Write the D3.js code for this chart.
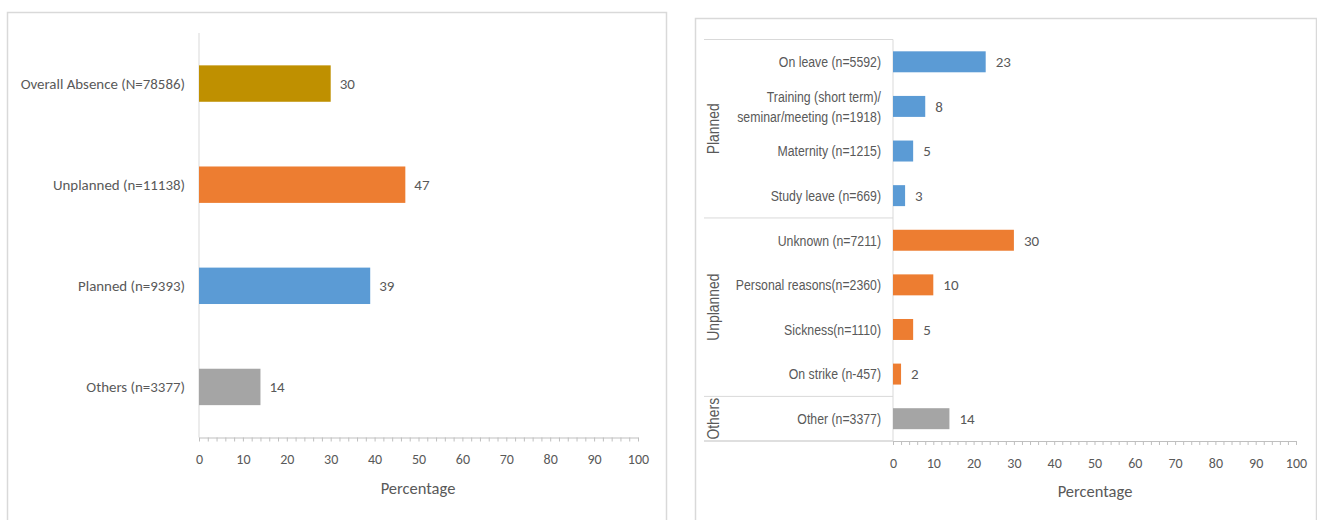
<!DOCTYPE html>
<html>
<head>
<meta charset="utf-8">
<script src="https://cdn.jsdelivr.net/npm/d3@7"></script>
<style>
  html, body { margin: 0; padding: 0; background: #fff; }
  svg { display: block; }
  .cal { font-family: Carlito, Lato, "Open Sans", sans-serif; fill: #595959; }
  .nar { font-family: "Liberation Sans", Arial, sans-serif; fill: #595959; }
</style>
</head>
<body>
<svg id="chart" width="1317" height="520"></svg>
<script>
// Absence by type (left panel)
const overviewCategories = ["Overall Absence (N=78586)", "Unplanned (n=11138)", "Planned (n=9393)", "Others (n=3377)"];
const overviewValues = [30, 47, 39, 14];
const overviewColors = ["#BF9000", "#ED7D31", "#5B9BD5", "#A5A5A5"];

// Absence reasons, grouped (right panel)
const reasonCategories = [
  "On leave (n=5592)",
  "Training (short term)/\nseminar/meeting (n=1918)",
  "Maternity (n=1215)",
  "Study leave (n=669)",
  "Unknown (n=7211)",
  "Personal reasons(n=2360)",
  "Sickness(n=1110)",
  "On strike (n-457)",
  "Other (n=3377)"
];
const reasonValues = [23, 8, 5, 3, 30, 10, 5, 2, 14];
const reasonGroupNames = ["Planned", "Unplanned", "Others"];
const reasonGroupSizes = [4, 4, 1];
const groupColors = ["#5B9BD5", "#ED7D31", "#A5A5A5"];

const axisTicks = d3.range(0, 101, 10);
const minorTicks = d3.range(0, 101, 2);
const axisTitle = "Percentage";

const svg = d3.select("#chart");
const lineColor = "#D9D9D9";
const tickColor = "#BFBFBF";
const narrow = 0.82; // horizontal squeeze for the condensed label face

// Panel frames
svg.append("rect").attr("x", 7.5).attr("y", 12.5).attr("width", 659).attr("height", 530)
  .attr("fill", "none").attr("stroke", lineColor).attr("stroke-width", 1.5);
svg.append("rect").attr("x", 695.5).attr("y", 18.5).attr("width", 621).attr("height", 530)
  .attr("fill", "none").attr("stroke", lineColor).attr("stroke-width", 1.5);

function drawXAxis(g, x, yPos, titleX, titleY) {
  const ax = g.append("g").attr("transform", `translate(0,${yPos})`)
    .call(d3.axisBottom(x).tickValues(minorTicks)
      .tickFormat(d => axisTicks.includes(d) ? d : "")
      .tickSizeInner(4).tickSizeOuter(0).tickPadding(13));
  ax.select(".domain").attr("stroke", tickColor);
  ax.selectAll(".tick line").attr("stroke", tickColor);
  ax.selectAll(".tick text").attr("class", "cal").attr("font-size", 14).attr("fill", "#595959");
  g.append("text").attr("class", "cal").attr("x", titleX).attr("y", titleY)
    .attr("text-anchor", "middle").attr("font-size", 16.5).text(axisTitle);
}

// ---- Left panel ----
{
  const g = svg.append("g");
  const x = d3.scaleLinear().domain([0, 100]).range([199, 638]);
  const y = d3.scaleBand().domain(overviewCategories).range([33, 437.5]).paddingInner(0.64).paddingOuter(0.32);

  g.append("line").attr("x1", x(0)).attr("x2", x(0)).attr("y1", 33).attr("y2", 437.5)
    .attr("stroke", lineColor);

  g.selectAll("rect.bar").data(overviewValues).join("rect")
    .attr("class", "bar")
    .attr("x", x(0)).attr("y", (d, i) => y(overviewCategories[i]))
    .attr("width", d => x(d) - x(0)).attr("height", y.bandwidth())
    .attr("fill", (d, i) => overviewColors[i]);

  g.selectAll("text.val").data(overviewValues).join("text")
    .attr("class", "cal val")
    .attr("x", d => x(d) + 9).attr("y", (d, i) => y(overviewCategories[i]) + y.bandwidth() / 2)
    .attr("dy", "0.35em").attr("font-size", 15).text(d => d);

  g.selectAll("text.cat").data(overviewCategories).join("text")
    .attr("class", "cal cat")
    .attr("x", 185).attr("y", d => y(d) + y.bandwidth() / 2)
    .attr("dy", "0.35em").attr("text-anchor", "end").attr("font-size", 14.9).text(d => d);

  drawXAxis(g, x, 437.5, 418, 494);
}

// ---- Right panel ----
{
  const g = svg.append("g");
  const x = d3.scaleLinear().domain([0, 100]).range([893, 1296]);
  const top = 39.5, bottom = 441;
  const y = d3.scaleBand().domain(d3.range(reasonCategories.length)).range([top, bottom])
    .paddingInner(0.53).paddingOuter(0.265);
  const step = y.step();

  // group index for each row
  const rowGroup = [];
  reasonGroupSizes.forEach((n, gi) => { for (let k = 0; k < n; k++) rowGroup.push(gi); });

  // table rules separating the groups
  let start = 0;
  const bounds = [0];
  reasonGroupSizes.forEach(n => { start += n; bounds.push(start); });
  bounds.forEach(b => {
    const yy = top + b * step;
    g.append("line").attr("x1", 704).attr("x2", x(0)).attr("y1", yy).attr("y2", yy)
      .attr("stroke", b === reasonCategories.length ? tickColor : lineColor);
  });
  g.append("line").attr("x1", x(0)).attr("x2", x(0)).attr("y1", top).attr("y2", bottom)
    .attr("stroke", lineColor);

  // group titles, rotated
  reasonGroupNames.forEach((name, gi) => {
    const cy = top + (bounds[gi] + bounds[gi + 1]) / 2 * step;
    g.append("text").attr("class", "nar")
      .attr("transform", `translate(713,${cy}) rotate(-90) scale(${narrow},1)`)
      .attr("text-anchor", "middle").attr("dy", "0.35em").attr("font-size", 17).text(name);
  });

  g.selectAll("rect.bar").data(reasonValues).join("rect")
    .attr("class", "bar")
    .attr("x", x(0)).attr("y", (d, i) => y(i))
    .attr("width", d => x(d) - x(0)).attr("height", y.bandwidth())
    .attr("fill", (d, i) => groupColors[rowGroup[i]]);

  g.selectAll("text.val").data(reasonValues).join("text")
    .attr("class", "cal val")
    .attr("x", d => x(d) + 10).attr("y", (d, i) => y(i) + y.bandwidth() / 2)
    .attr("dy", "0.35em").attr("font-size", 15).text(d => d);

  reasonCategories.forEach((label, i) => {
    const lines = label.split("\n");
    const cy = y(i) + y.bandwidth() / 2;
    const t = g.append("text").attr("class", "nar").attr("text-anchor", "end").attr("font-size", 15)
      .attr("transform", `translate(881,${cy}) scale(${narrow},1)`);
    lines.forEach((ln, k) => {
      t.append("tspan").attr("x", 0)
        .attr("y", (k - (lines.length - 1) / 2) * 20)
        .attr("dy", "0.35em").text(ln);
    });
  });

  drawXAxis(g, x, bottom, 1095, 497);
}
</script>
</body>
</html>
